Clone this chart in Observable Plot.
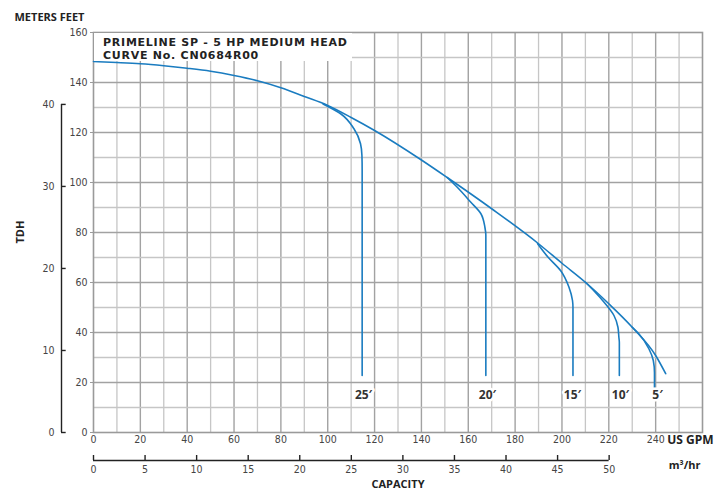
<!DOCTYPE html>
<html>
<head>
<meta charset="utf-8">
<script src="https://cdn.jsdelivr.net/npm/d3@7"></script>
<script src="https://cdn.jsdelivr.net/npm/@observablehq/plot@0.6"></script>
<style>
  html, body { margin: 0; padding: 0; background: #fff; }
  #wrap { position: relative; width: 721px; height: 491px; }
  #title {
    position: absolute; left: 94px; top: 33px; width: 249px; height: 25px;
    background: #fff; padding: 3px 0 0 9px;
    font-family: "DejaVu Sans", sans-serif; font-weight: 700; font-size: 11px;
    letter-spacing: 0.75px; color: #222; white-space: nowrap;
  }
  #title div { height: 13px; line-height: 13px; }
</style>
</head>
<body>
<div id="wrap">
  <div id="title"><div>PRIMELINE SP - 5 HP MEDIUM HEAD</div><div>CURVE No. CN0684R00</div></div>
</div>
<script>
// Main pump curve (US GPM vs feet of head)
const mainGpm = [0, 10, 20, 30, 40, 50, 60, 70, 80, 90, 100, 110, 120, 140, 151, 170, 190, 200, 210, 220, 230, 240, 244.3];
const mainFt  = [148.4, 148, 147.5, 146.7, 145.7, 144.5, 142.8, 140.7, 137.9, 134.4, 130.8, 126, 120.8, 109, 102, 89.5, 75.5, 67.7, 60.1, 51.5, 42.1, 30.8, 23.5];

// Setting-depth branch curves (GPM, feet), bottom first
const branch25Gpm = [114.7, 114.7, 114.6, 114, 111.2, 105.5, 98];
const branch25Ft  = [22.8, 105, 110.8, 115.5, 121.5, 127.5, 131.4];
const branch20Gpm = [167.5, 167.5, 167.1, 165.4, 161.1, 155.3, 151];
const branch20Ft  = [22.8, 79, 82.1, 87.5, 92.1, 98.1, 102];
const branch15Gpm = [204.7, 204.7, 204.5, 203, 199.4, 194, 189.6];
const branch15Ft  = [22.8, 50, 52.8, 58.1, 64.8, 70.2, 75.5];
const branch10Gpm = [224.5, 224.5, 224.3, 223.9, 222.2, 217.9, 214, 210];
const branch10Ft  = [22.8, 36, 38.1, 42.1, 46.8, 52.2, 56.3, 60.1];
const branch5Gpm  = [239.5, 239.5, 239, 237.1, 232.8, 230];
const branch5Ft   = [17.6, 24, 28.8, 33.5, 39.5, 42.1];

const branchLabels = ["25′", "20′", "15′", "10′", "5′"];
const labelGpm = [115.3, 168.2, 204.5, 225, 240.8];
const labelFt = [14.8, 14.8, 14.8, 14.8, 14.8];

// Axis ticks
const feetTicks = [0, 20, 40, 60, 80, 100, 120, 140, 160];
const gpmTicks = [0, 20, 40, 60, 80, 100, 120, 140, 160, 180, 200, 220, 240];
const meterTicks = [0, 10, 20, 30, 40];
const m3hrTicks = [0, 5, 10, 15, 20, 25, 30, 35, 40, 45, 50];

const FT_PER_M = 3.28084;
const GPM_PER_M3HR = 4.40287;

const mainCurve = mainGpm.map((g, i) => ({gpm: g, ft: mainFt[i]}));
const branches = [
  ["25", branch25Gpm, branch25Ft],
  ["20", branch20Gpm, branch20Ft],
  ["15", branch15Gpm, branch15Ft],
  ["10", branch10Gpm, branch10Ft],
  ["5", branch5Gpm, branch5Ft]
].flatMap(([name, gs, fs]) => gs.map((g, i) => ({name, gpm: g, ft: fs[i]})));
const labels = branchLabels.map((t, i) => ({text: t, gpm: labelGpm[i], ft: labelFt[i]}));

const blue = "#1a7cc0";
const numFont = "'Liberation Sans Narrow', 'DejaVu Sans Condensed', sans-serif";
const boldFont = "'Open Sans', sans-serif";

const minorX = d3.range(10, 260, 20), majorX = d3.range(20, 260, 20);
const minorY = d3.range(10, 160, 20), majorY = d3.range(20, 160, 20);

const chart = Plot.plot({
  width: 721,
  height: 491,
  marginLeft: 93,
  marginRight: 19,
  marginTop: 32,
  marginBottom: 59,
  style: {fontFamily: numFont, fontSize: "10.5px", color: "#444", background: "#fff"},
  x: {domain: [0, 260]},
  y: {domain: [0, 160]},
  marks: [
    Plot.gridX(minorX, {stroke: "#c6c6c6", strokeOpacity: 1, strokeWidth: 1.3}),
    Plot.gridX(majorX, {stroke: "#a2a2a2", strokeOpacity: 1, strokeWidth: 1.4}),
    Plot.gridY(minorY, {stroke: "#c6c6c6", strokeOpacity: 1, strokeWidth: 1.3}),
    Plot.gridY(majorY, {stroke: "#a2a2a2", strokeOpacity: 1, strokeWidth: 1.4}),
    Plot.frame({stroke: "#9a9a9a", strokeWidth: 1.6}),
    Plot.axisX(gpmTicks, {tickSize: 0, tickPadding: 3, label: null, fill: "#444"}),
    Plot.axisY(feetTicks, {tickSize: 3, tickPadding: 3, label: null, stroke: "#9a9a9a", fill: "#444"}),
    // meters axis (secondary left)
    Plot.ruleX([0], {y1: 0, y2: 40 * FT_PER_M, dx: -32, stroke: "#222", strokeWidth: 1.4}),
    Plot.ruleY(meterTicks, {y: d => d * FT_PER_M, x1: 0, x2: 2, dx: -32, stroke: "#222", strokeWidth: 1.4}),
    Plot.text(meterTicks, {x: 0, y: d => d * FT_PER_M, text: d => d, dx: -39, textAnchor: "end", fill: "#444"}),
    // m3/hr axis (secondary bottom)
    Plot.ruleY([0], {x1: 0, x2: 50 * GPM_PER_M3HR, dy: 28, stroke: "#222", strokeWidth: 1.4}),
    Plot.ruleX(m3hrTicks, {x: d => d * GPM_PER_M3HR, y1: 0, y2: 2, dy: 28, stroke: "#222", strokeWidth: 1.4}),
    Plot.text(m3hrTicks, {x: d => d * GPM_PER_M3HR, y: 0, text: d => d, dy: 37, fill: "#444"}),
    // curves
    Plot.line(mainCurve, {x: "gpm", y: "ft", curve: "monotone-x", stroke: blue, strokeWidth: 1.6}),
    Plot.line(branches, {x: "gpm", y: "ft", z: "name", curve: "monotone-y", stroke: blue, strokeWidth: 1.6}),
    Plot.text(labels, {x: "gpm", y: "ft", text: "text", fontFamily: boldFont, fontWeight: 700, fontSize: 12, fill: "#333", stroke: "white", strokeWidth: 5, paintOrder: "stroke"}),
    // axis titles
    Plot.text(["METERS FEET"], {frameAnchor: "top-left", dx: -79, dy: -15, textAnchor: "start", lineAnchor: "middle", fontFamily: boldFont, fontWeight: 700, fontSize: 11, fill: "#222"}),
    Plot.text(["TDH"], {frameAnchor: "left", dx: -73, dy: 11, rotate: -90, fontFamily: boldFont, fontWeight: 700, fontSize: 11, fill: "#222"}),
    Plot.text(["US GPM"], {frameAnchor: "bottom-right", dx: 11, dy: 8, textAnchor: "end", lineAnchor: "middle", fontFamily: boldFont, fontWeight: 700, fontSize: 12, fill: "#222"}),
    Plot.text(["m³/hr"], {frameAnchor: "bottom-right", dx: -2, dy: 33, textAnchor: "end", lineAnchor: "middle", fontFamily: boldFont, fontWeight: 700, fontSize: 11, fill: "#222"}),
    Plot.text(["CAPACITY"], {frameAnchor: "bottom", dy: 52, lineAnchor: "middle", fontFamily: boldFont, fontWeight: 700, fontSize: 11, fill: "#222"})
  ]
});
document.getElementById("wrap").prepend(chart);
chart.style.position = "absolute";
chart.style.left = "0";
chart.style.top = "0";
</script>
</body>
</html>
